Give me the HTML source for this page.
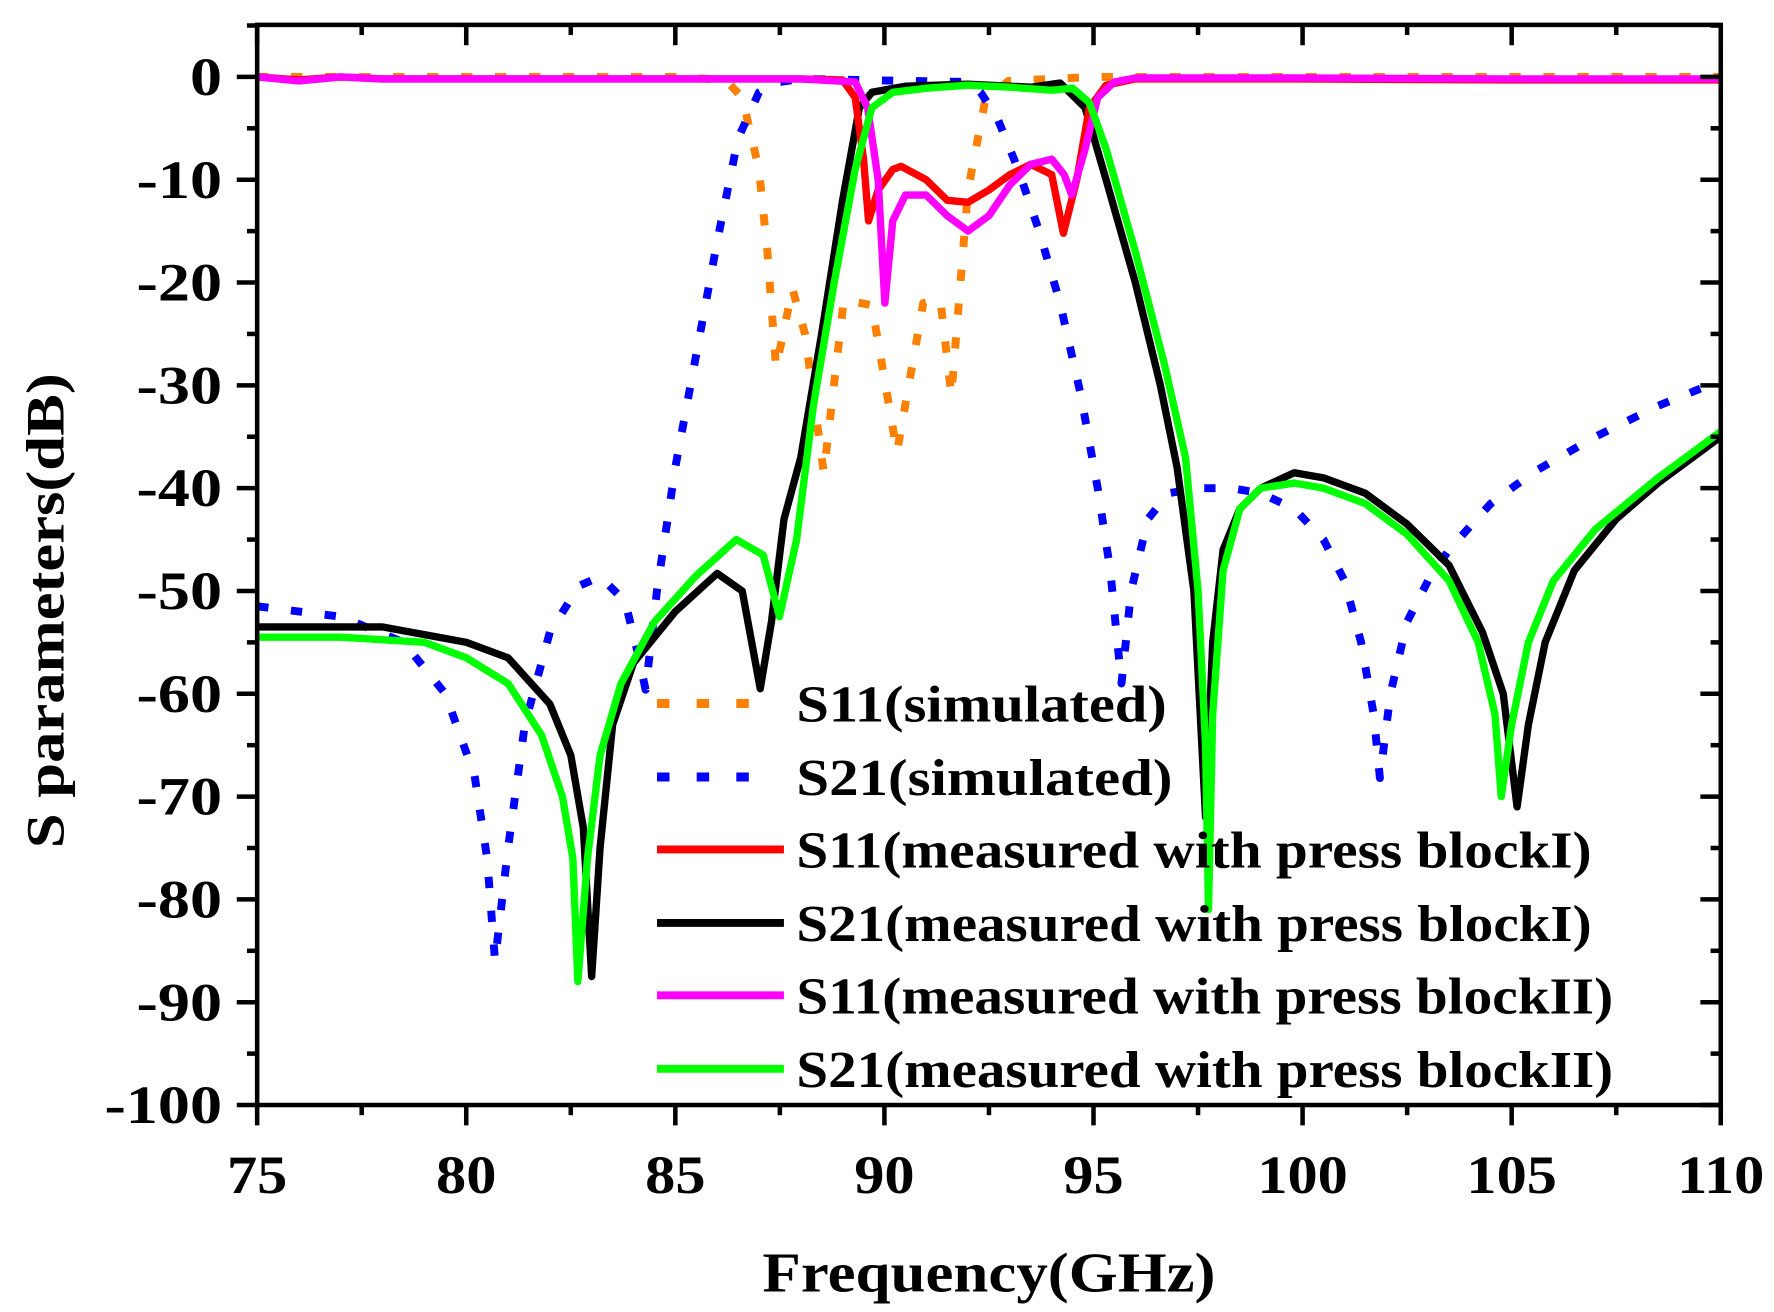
<!DOCTYPE html>
<html><head><meta charset="utf-8"><style>
html,body{margin:0;padding:0;background:#fff;}
svg{display:block;}
text{font-family:"Liberation Serif",serif;font-weight:bold;fill:#000;}
</style></head><body>
<svg id="chart" width="1774" height="1312" viewBox="0 0 1566 1160" preserveAspectRatio="none" xmlns="http://www.w3.org/2000/svg">
<g id="plot"></g>
<g id="axes"></g>
<g id="legend"></g>
<text x="873" y="1142" font-size="50" text-anchor="middle" textLength="400" lengthAdjust="spacingAndGlyphs">Frequency(GHz)</text>
<text transform="translate(56,540) rotate(-90)" font-size="48" text-anchor="middle" textLength="420" lengthAdjust="spacingAndGlyphs">S parameters(dB)</text>
</svg>
<script>
const xTicks = [75, 80, 85, 90, 95, 100, 105, 110];
const yTicks = [0, -10, -20, -30, -40, -50, -60, -70, -80, -90, -100];
const seriesNames = ["S11(simulated)", "S21(simulated)", "S11(measured with press blockI)", "S21(measured with press blockI)", "S11(measured with press blockII)", "S21(measured with press blockII)"];

const s11SimF = [75,80,85,86.2,86.6,87,87.2,87.41,87.8,88.1,88.55,89.03,89.7,90.3,90.93,91.34,91.6,92.0,92.4,92.96,95,110];
const s11SimDb = [0,0,0,-0.3,-2,-9,-17,-28.3,-20.6,-25,-38.5,-21.7,-22.2,-36.5,-22,-21.7,-31,-11,-2.5,-0.4,0,0];

const s21SimF = [75,77,78.5,79.5,80.2,80.5,80.69,81.0,81.4,82,82.7,83.2,83.8,84.1,84.29,84.56,85,85.5,86,86.5,87,87.5,88,92,92.3,92.7,93.2,93.7,94.2,94.7,95.1,95.4,95.67,95.9,96.3,96.8,97.5,98.3,99,99.8,100.5,101,101.4,101.7,101.85,102.1,102.5,103,103.5,104.5,105.5,107,108.5,110];
const s21SimDb = [-51.5,-52.5,-55,-60,-68,-76,-86,-75,-63,-54,-49.5,-48.6,-51,-56,-59.6,-50,-38,-27,-16,-6,-1.5,-0.5,-0.2,-0.5,-1.5,-4,-9,-15,-22,-31,-40,-48,-59,-50,-43,-40.5,-40,-40,-40.5,-42,-45,-49,-55,-62,-68.2,-60,-53,-49,-46,-41.5,-38.5,-35,-32,-29.5];

const s11MeasIF = [75,76,77,78,80,85,88,89,89.3,89.5,89.62,89.85,90.2,90.4,91,91.5,92,92.5,93,93.5,94,94.28,94.6,94.9,95.3,96,100,105,110];
const s11MeasIDb = [0,-0.3,0,-0.2,-0.2,-0.2,-0.2,-0.3,-2,-8,-14,-11,-9,-8.7,-10,-12,-12.2,-11,-9.5,-8.5,-9.5,-15.2,-10,-3,-0.8,-0.2,-0.2,-0.3,-0.3];

const s21MeasIF = [75,78,80,81,82,82.5,82.8,83.0,83.2,83.5,84,85,86,86.6,87.03,87.3,87.6,88,88.5,89,89.4,89.7,90.5,92,93.5,94.2,94.8,95.3,96,96.6,97,97.4,97.68,97.85,98.1,98.5,99,99.8,100.5,101.5,102.5,103.5,104.3,104.8,105.13,105.4,105.8,106.5,107.5,108.5,110];
const s21MeasIDb = [-53.5,-53.5,-55,-56.5,-61,-66,-73,-87.5,-75,-63,-57,-52,-48.3,-50,-59.5,-53,-43,-37,-25,-12,-3,-1.5,-0.9,-0.7,-1,-0.6,-3,-10,-20,-30,-38,-50,-72,-55,-46,-42,-40,-38.5,-39,-40.5,-43.5,-47.5,-54,-60,-71,-63,-55,-48,-43,-39.5,-35];

const s11MeasIIF = [75,76,77,78,80,85,88,89.3,89.6,89.85,90.01,90.2,90.5,91,91.5,92,92.5,93,93.5,94,94.3,94.48,94.8,95.1,95.5,96,100,105,110];
const s11MeasIIDb = [0,-0.4,0,-0.2,-0.2,-0.2,-0.2,-0.5,-3,-10,-22,-14,-11.5,-11.5,-13.5,-15,-13.5,-10.5,-8.5,-8,-9.5,-11.5,-7,-2,-0.5,-0.1,-0.1,-0.2,-0.2];

const s21MeasIIF = [75,77,79,80,81,81.8,82.3,82.55,82.67,82.9,83.2,83.7,84.5,85.5,86.46,87.1,87.49,87.9,88.3,88.8,89.3,89.7,90.2,91,92,93,94,94.5,94.9,95.3,96,96.7,97.2,97.5,97.68,97.75,97.85,98.1,98.5,99,99.8,100.5,101.5,102.5,103.5,104.2,104.6,104.75,105.0,105.4,106,107,108.5,110];
const s21MeasIIDb = [-54.5,-54.5,-55,-56.5,-59,-64,-70,-76,-88,-76,-66,-59,-53,-48.5,-45,-46.5,-52.5,-45,-32,-20,-9,-3,-1.5,-1.1,-0.8,-1,-1.3,-1.1,-2.5,-7,-17,-28,-37,-50,-65,-81,-62,-48,-42,-40,-39.5,-40,-41.5,-44.5,-49,-55,-62,-70,-63,-55,-49,-44,-39,-34.5];

const L=227,R=1519,T=22,B=977,X0=75,X1=110,Y0=-100,Y1=5.06;
function xs(v){return L+(v-X0)*(R-L)/(X1-X0);}
function ys(v){return B-(v-Y0)*(B-T)/(Y1-Y0);}
const NS="http://www.w3.org/2000/svg";
function mk(tag,parent){const e=document.createElementNS(NS,tag);parent.appendChild(e);return e;}
function stretch(t,k){const w=t.getComputedTextLength();t.setAttribute('textLength',(w*k).toFixed(1));t.setAttribute('lengthAdjust','spacingAndGlyphs');}

const plot=document.getElementById('plot');
const series=[
 {f:s11SimF,d:s11SimDb,c:"#ff8000",dash:true,n:"s11-simulated-line"},
 {f:s21SimF,d:s21SimDb,c:"#0000ff",dash:true,n:"s21-simulated-line"},
 {f:s21MeasIF,d:s21MeasIDb,c:"#000000",dash:false,n:"s21-measured-block1-line"},
 {f:s11MeasIF,d:s11MeasIDb,c:"#ff0000",dash:false,n:"s11-measured-block1-line"},
 {f:s11MeasIIF,d:s11MeasIIDb,c:"#ff00ff",dash:false,n:"s11-measured-block2-line"},
 {f:s21MeasIIF,d:s21MeasIIDb,c:"#00ff00",dash:false,n:"s21-measured-block2-line"}
];
series.forEach(s=>{
  const p=mk('polyline',plot);
  
  
  p.setAttribute('points',s.f.map((v,i)=>xs(v).toFixed(1)+','+ys(s.d[i]).toFixed(1)).join(' '));
  p.setAttribute('fill','none');
  p.setAttribute('stroke',s.c);
  p.setAttribute('stroke-width',s.dash?7:6.5);
  p.setAttribute('stroke-linejoin','round');
  if(s.dash) p.setAttribute('stroke-dasharray','10 20');
});

const axes=document.getElementById('axes');
function line(x1,y1,x2,y2,w,name){
  const l=mk('line',axes);
  
  
  l.setAttribute('x1',x1);l.setAttribute('y1',y1);l.setAttribute('x2',x2);l.setAttribute('y2',y2);
  l.setAttribute('stroke','#000');l.setAttribute('stroke-width',w);
}
const fr=mk('rect',axes);


fr.setAttribute('x',L);fr.setAttribute('y',T);fr.setAttribute('width',R-L);fr.setAttribute('height',B-T);
fr.setAttribute('fill','none');fr.setAttribute('stroke','#000');fr.setAttribute('stroke-width',4);
for(let v=X0;v<=X1+0.01;v+=2.5){
  const major=Math.abs(v%5)<0.01, x=xs(v), len=major?18:9;
  line(x,B,x,B+len,4,'x-tick');
  line(x,T,x,T+len,4,'x-tick-top');
}
for(let v=-100;v<=5;v+=5){
  const major=v%10===0, y=ys(v), len=major?18:9;
  line(L,y,L-len,y,4,'y-tick');
  line(R,y,R-len,y,4,'y-tick-right');
}
xTicks.forEach(v=>{
  const t=mk('text',axes);
  
  
  t.setAttribute('x',xs(v));t.setAttribute('y',1055);t.setAttribute('font-size',48);t.setAttribute('text-anchor','middle');
  t.textContent=v;
  stretch(t,1.11);
});
yTicks.forEach(v=>{
  const t=mk('text',axes);
  
  
  t.setAttribute('x',196);t.setAttribute('y',ys(v)+16);t.setAttribute('font-size',48);t.setAttribute('text-anchor','end');
  t.textContent=v;
  stretch(t,1.18);
});

const legend=document.getElementById('legend');
const legColors=["#ff8000","#0000ff","#ff0000","#000000","#ff00ff","#00ff00"];
const legY=[622,687,751,816,880,945];
const legW=[327,332,702,702,721,721];
seriesNames.forEach((n,i)=>{
  const g=mk('g',legend);
  
  
  const l=mk('line',g);
  l.setAttribute('x1',580);l.setAttribute('x2',i<2?685:692);
  l.setAttribute('y1',legY[i]);l.setAttribute('y2',legY[i]);
  l.setAttribute('stroke',legColors[i]);l.setAttribute('stroke-width',i<2?8:7);
  if(i<2) l.setAttribute('stroke-dasharray','11 24');
  const t=mk('text',g);
  t.setAttribute('x',703);t.setAttribute('y',legY[i]+16);t.setAttribute('font-size',46);
  t.setAttribute('textLength',legW[i]);t.setAttribute('lengthAdjust','spacingAndGlyphs');
  t.textContent=n;
});
</script>
</body></html>
